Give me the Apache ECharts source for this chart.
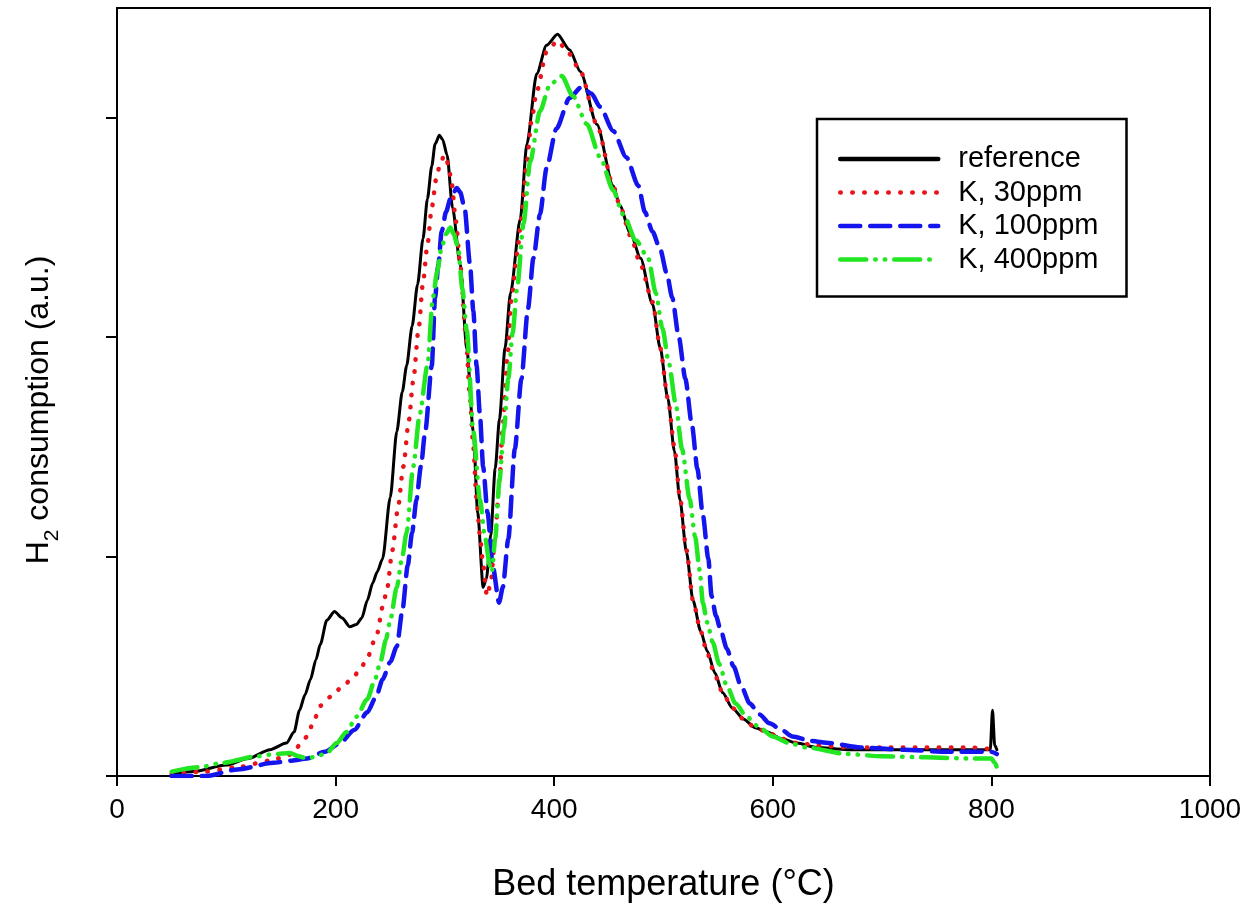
<!DOCTYPE html>
<html>
<head>
<meta charset="utf-8">
<script src="https://cdn.jsdelivr.net/npm/echarts@6/dist/echarts.min.js"></script>
<style>
html,body{margin:0;padding:0;background:#fff;}
#c{width:1257px;height:909px;}
</style>
</head>
<body>
<div id="c"></div>
<script>
var xTicks = [0, 200, 400, 600, 800, 1000];
var yTicks = [0, 1, 2, 3];
var seriesNames = ['reference', 'K, 30ppm', 'K, 100ppm', 'K, 400ppm'];

var refT = [50,70,100,120,140,155,162,167,172,177,182,186,192,199,206,213,219,224,229,234,238,243,250,256,261,265,270,275,280,284,288,291,295,298,302,307,314,320,326,330,335,338,342,346,350,355,360,369,375,384,393,403,414,424,439,454,460,470,479,490,497,504,510,515,521,527,534,540,547,554,563,573,584,595,608,622,640,668,700,740,780,799,801,803,805];
var refV = [0.01,0.02,0.05,0.08,0.12,0.15,0.20,0.30,0.37,0.44,0.53,0.60,0.71,0.75,0.72,0.68,0.69,0.72,0.80,0.88,0.93,0.99,1.27,1.57,1.75,1.87,2.05,2.24,2.45,2.63,2.78,2.88,2.92,2.90,2.83,2.59,2.33,1.95,1.57,1.20,0.86,0.90,1.10,1.40,1.63,1.95,2.20,2.54,2.88,3.20,3.33,3.38,3.31,3.21,2.97,2.69,2.60,2.47,2.36,2.15,1.95,1.72,1.48,1.26,1.02,0.80,0.66,0.57,0.47,0.38,0.31,0.26,0.22,0.20,0.17,0.15,0.13,0.12,0.12,0.12,0.12,0.12,0.30,0.14,0.12];

var k30T = [50,80,110,140,155,161,167,174,180,186,195,207,216,223,229,238,243,247,252,257,262,267,271,276,280,284,288,292,296,300,303,306,310,314,319,323,326,329,332,335,338.5,342,346,350,353,357,361,366,370,375,379,384,393,403,414,424,439,454,460,470,479,490,497,504,510,515,521,527,534,540,547,554,563,573,584,595,608,622,640,668,700,740,780,805];
var k30V = [0.01,0.02,0.04,0.07,0.09,0.105,0.14,0.18,0.25,0.32,0.36,0.41,0.45,0.49,0.54,0.65,0.77,0.85,1.03,1.22,1.41,1.62,1.80,2.04,2.25,2.42,2.59,2.72,2.80,2.83,2.79,2.71,2.53,2.33,2.02,1.72,1.50,1.26,1.10,0.96,0.82,0.88,1.10,1.35,1.60,1.90,2.18,2.38,2.54,2.80,2.98,3.12,3.30,3.35,3.29,3.21,2.97,2.69,2.60,2.46,2.33,2.16,1.95,1.72,1.50,1.27,1.03,0.80,0.66,0.56,0.46,0.38,0.31,0.26,0.22,0.20,0.17,0.15,0.14,0.13,0.13,0.13,0.13,0.12];

var k100T = [50,82,110,143,160,174,190,204,217,229,237,243,250,256,261,266,270,274,278,282,288,291,294,297,301,305,311,314,318,323,326,329,332,335,339,344,349.5,353,358,364,370,376,381,387,393,402,414,425,434,442,454,466,477,483,490,497,503,508,514,520,526,531,536,541,544,548,552,558,564,571,579,588,597,608,618,635,652,680,720,760,800,805];
var k100V = [0.0,0.0,0.03,0.06,0.07,0.08,0.11,0.15,0.21,0.29,0.36,0.44,0.52,0.59,0.75,0.96,1.11,1.26,1.41,1.57,1.87,2.18,2.33,2.48,2.57,2.63,2.68,2.66,2.59,2.33,2.12,1.87,1.65,1.41,1.20,0.95,0.79,0.86,1.08,1.49,1.81,2.13,2.36,2.56,2.77,2.95,3.09,3.14,3.11,3.05,2.94,2.82,2.69,2.57,2.48,2.40,2.29,2.18,2.00,1.81,1.60,1.40,1.19,0.99,0.82,0.73,0.67,0.58,0.50,0.41,0.33,0.28,0.24,0.21,0.18,0.16,0.15,0.13,0.12,0.11,0.11,0.10];

var k400T = [50,75,97,128,145,158,166,174,183,192,201,210,219,229,236,241,246,250,256,261,265,271,277,284,289,293,297,301,305,308,312,316,320,326,332,337,341,343,346,350,354,358,362,366,372,378,387,396,407,417,430,442,454,463,475,486,493,499,505,511,517,524,529,533,536,540,545,551,558,566,576,588,600,615,631,668,700,740,780,800,803,805];
var k400V = [0.02,0.04,0.06,0.09,0.10,0.105,0.09,0.08,0.09,0.105,0.15,0.20,0.27,0.35,0.44,0.52,0.62,0.71,0.86,1.00,1.11,1.41,1.65,1.87,2.18,2.30,2.41,2.47,2.50,2.47,2.41,2.22,2.03,1.57,1.26,1.08,0.96,0.93,1.08,1.35,1.58,1.81,2.02,2.22,2.52,2.80,3.03,3.15,3.19,3.10,2.97,2.82,2.67,2.56,2.44,2.36,2.20,2.04,1.88,1.70,1.49,1.26,1.09,0.94,0.79,0.70,0.61,0.51,0.41,0.33,0.27,0.22,0.18,0.15,0.13,0.10,0.09,0.085,0.08,0.08,0.06,0.04];

function zip(a, b) { return a.map(function (t, i) { return [t, b[i]]; }); }

var FONT = "'Liberation Sans', Arial, sans-serif";
var chart = echarts.init(document.getElementById('c'), null, {renderer: 'canvas'});

function mk(name, t, v, color, width, type) {
  return {
    name: name, type: 'line', data: zip(t, v),
    symbol: 'none', showSymbol: false,
    smooth: 0.25, smoothMonotone: 'x',
    lineStyle: {color: color, width: width, type: type, cap: 'round', join: 'round'},
    itemStyle: {color: color},
    emphasis: {disabled: true},
    animation: false
  };
}

chart.setOption({
  animation: false,
  backgroundColor: '#fff',
  textStyle: {fontFamily: FONT, color: '#000'},
  grid: {left: 117, right: 47, top: 8, bottom: 133, show: true, borderColor: '#000', borderWidth: 2, outerBoundsMode: 'none'},
  legend: {
    orient: 'vertical', left: 817, top: 119,
    padding: [25, 28, 22, 21],
    itemGap: 3.5, itemWidth: 98, itemHeight: 12,
    borderColor: '#000', borderWidth: 2.5,
    itemStyle: {opacity: 0},
    lineStyle: {width: 4.5},
    textStyle: {fontSize: 29, fontFamily: FONT, color: '#000', padding: [0, 0, 0, 15], lineHeight: 30},
    data: seriesNames
  },
  xAxis: {
    type: 'value', min: xTicks[0], max: xTicks[xTicks.length - 1], interval: 200,
    axisLine: {lineStyle: {color: '#000', width: 2}},
    axisTick: {show: true, length: 10, lineStyle: {color: '#000', width: 2}},
    axisLabel: {fontSize: 28, color: '#000', fontFamily: FONT, margin: 20, formatter: function (v) { return String(v); }},
    splitLine: {show: false},
    name: 'Bed temperature (\u00B0C)', nameLocation: 'middle', nameGap: 91,
    nameTextStyle: {fontSize: 36, color: '#000', fontFamily: FONT}
  },
  yAxis: {
    type: 'value', min: 0, max: 3.5, interval: 1,
    axisLine: {show: true, lineStyle: {color: '#000', width: 2}},
    axisTick: {show: true, length: 11, customValues: yTicks, lineStyle: {color: '#000', width: 2}},
    axisLabel: {show: false},
    splitLine: {show: false},
    name: '{n|H}{s|2}{n| consumption (a.u.)}', nameLocation: 'middle', nameRotate: 90, nameGap: 54,
    nameTextStyle: {
      fontFamily: FONT, color: '#000', padding: [0, 36, 0, 0],
      rich: {
        n: {fontSize: 32, lineHeight: 40, verticalAlign: 'top', fontFamily: FONT, color: '#000'},
        s: {fontSize: 21, lineHeight: 40, verticalAlign: 'bottom', fontFamily: FONT, color: '#000'}
      }
    }
  },
  series: [
    mk(seriesNames[0], refT, refV, '#000000', 3, 'solid'),
    mk(seriesNames[1], k30T, k30V, '#e8141b', 4.5, [0.5, 11.5]),
    mk(seriesNames[2], k100T, k100V, '#1414ee', 4.5, [20, 10]),
    mk(seriesNames[3], k400T, k400V, '#22e622', 4.5, [26, 9, 0.5, 9, 0.5, 9])
  ]
});
</script>
</body>
</html>
